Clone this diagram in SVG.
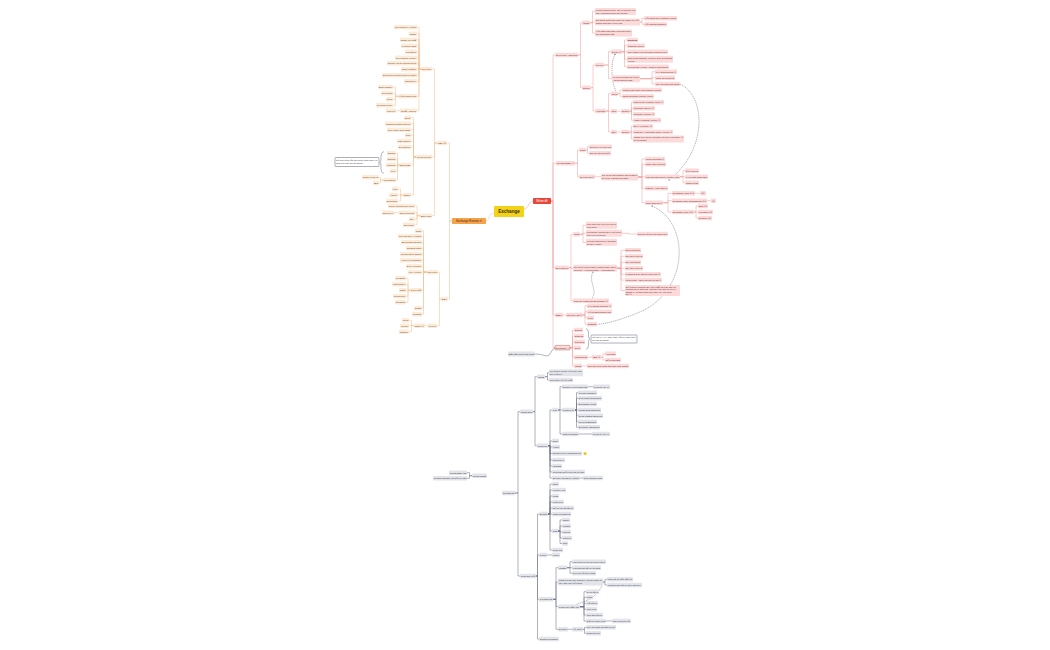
<svg xmlns="http://www.w3.org/2000/svg" width="1050" height="650" viewBox="0 0 1050 650">
<style>
text{font-family:"Liberation Sans",Arial,"DejaVu Sans",sans-serif;font-size:2.2px;fill:#3d3d3d}
rect{rx:0.7px}
.o rect{fill:#fdebd9}
.o text{fill:#5a4330}
.r rect{fill:#fcdada}
.r text{fill:#5a2b2b}
.g rect{fill:#e3e4ea}
.g text{fill:#30323d}
.co{fill:none;stroke:#f6c392;stroke-width:0.55}
.cr{fill:none;stroke:#f2a2a2;stroke-width:0.55}
.cg{fill:none;stroke:#6e7288;stroke-width:0.55}
.dash{fill:none;stroke:#4d5165;stroke-width:0.45;stroke-dasharray:1.2 0.8}
.note rect{fill:#ffffff;stroke:#5b6076;stroke-width:0.5}
.br{fill:none;stroke:#5b6076;stroke-width:0.45}
</style>
<rect width="1050" height="650" fill="#ffffff"/>

<g id="connectors">
<path class="co" d="M494,213C488,213 490,221 486,221"/>
<path class="cr" d="M524,209C529,209 528,201 533,201"/>
<path class="co" d="M452,221H449.5V143H447M452,221H449.5V299H448
M437,143H434.5V69H432M437,143H434.5V157H432M437,143H434.5V215.7H432
M421,69H419V27.3H417M421,69H419V33.7H417M421,69H419V39.7H417M421,69H419V45.7H417M421,69H419V51.7H417M421,69H419V57.7H417M421,69H419V63.3H417M421,69H419V69.3H417M421,69H419V75.3H417M421,69H419V81.3H417M421,69H419V96.3H417M421,69H419V110.7H417
M398,96.3H395.5V87H393M398,96.3H395.5V93.3H393M398,96.3H395.5V99.3H393M398,96.3H395.5V105.3H393M400,110.7H396
M416,157H413.5V117.7H411M416,157H413.5V123.7H411M416,157H413.5V129.7H411M416,157H413.5V135.3H411M416,157H413.5V141H411M416,157H413.5V147H411M416,157H413.5V165H411M416,157H413.5V195H411
M399,165H397.5V153.3H396M399,165H397.5V159H396M399,165H397.5V165H396M399,165H397.5V171H396M399,165H397.5V180H396
M383,180H380.5V177.3H379M383,180H380.5V183H379
M403,195H400.5V189H398M403,195H400.5V195H398M403,195H400.5V201H398
M420,215.7H417V206H415M420,215.7H417V212.7H415M420,215.7H417V219H415M420,215.7H417V224.7H415M399,212.7H394
M441,299H439.5V272.3H438M441,299H439.5V325.7H437
M427,272.3H423.5V230.7H422M427,272.3H423.5V236.3H422M427,272.3H423.5V242.3H422M427,272.3H423.5V248.3H422M427,272.3H423.5V254.3H422M427,272.3H423.5V260.3H422M427,272.3H423.5V266.3H422M427,272.3H423.5V272.3H422M427,272.3H423.5V290.3H422M427,272.3H423.5V308.3H422M427,272.3H423.5V314.3H422
M410,290.3H408V278.3H406M410,290.3H408V284.3H406M410,290.3H408V290.3H406M410,290.3H408V296.3H406M410,290.3H408V302.3H406
M428,325.7H425M414,325.7H411.5V320.3H409M414,325.7H411.5V325.7H409M414,325.7H411.5V331.7H409"/>
<path class="cr" d="M551,201H553V55H555M551,201H553V163.3H556M551,201H553V267.7H555M551,201H553V315H555M551,201H553V347.7H555
M578,55H580.5V22.7H582M578,55H580.5V87.7H582
M590,22.7H592.5V11.5H595M590,22.7H592.5V22H595M590,22.7H592.5V33H595M640,22H642V18.3H644M640,22H642V24.3H644
M591,87.7H593V65H595M591,87.7H593V111H595
M604,65H608.5V51.7H611M604,65H608.5V78.7H612
M622,51.7H624.5V40H627M622,51.7H624.5V45.7H627M622,51.7H624.5V51.7H627M622,51.7H624.5V59.3H627M622,51.7H624.5V66.7H627
M640,78.7H652V71.7H655M640,78.7H652V77.7H655M640,78.7H652V84H655
M606,111H608.5V93.7H611M606,111H608.5V111.3H611M606,111H608.5V132H611
M618,93.7H620V90H622M618,93.7H620V96.3H622
M617,111.3H621M630,111.3H631.5V102.3H633M630,111.3H631.5V108.3H633M630,111.3H631.5V114.3H633M630,111.3H631.5V120.3H633
M617,132H621M630,132H631.5V126.3H633M630,132H631.5V132H633M630,132H631.5V139H633
M575,163.3H577.5V150H579M575,163.3H577.5V176.7H579
M586,150H587.5V146.7H589M586,150H587.5V153.3H589M595,176.7H601
M638,177H642V159H645M638,177H642V164.3H645M638,177H642V176.7H645M638,177H642V188.3H645M638,177H642V202.7H645
M680,176.7H683V170.7H685M680,176.7H683V176.7H685M680,176.7H683V182.7H685
M663,202.7H668V193.3H672M663,202.7H668V200.7H672M663,202.7H668V212H672
M695,193.3H700M707,200.7H711M694,212H696V206H698M694,212H696V212H698M694,212H696V218H698
M569,267.7H571V234.3H573M569,267.7H571V268.3H573M569,267.7H571V300.7H573
M580,234.3H583V225.3H586M580,234.3H583V233.3H586M580,234.3H583V242.3H586M622,233.3H629V234H637
M617,268.3H621V250.3H625M617,268.3H621V256.3H625M617,268.3H621V262.3H625M617,268.3H621V268.3H625M617,268.3H621V274.3H625M617,268.3H621V280H625M617,268.3H621V290.5H625
M563,315H566M583,315H585V305.7H587M583,315H585V311.7H587M583,315H585V317.7H587M583,315H585V324.3H587
M570,347.7H572.5V330H574M570,347.7H572.5V336H574M570,347.7H572.5V342H574M570,347.7H572.5V347.7H574M570,347.7H572.5V357.3H574M570,347.7H572.5V366H574
M588,357.3H592M601,357.3H603V353.7H605M601,357.3H603V360H605M582,366H587"/>
<path class="cg" d="M515,493H518V411.7H520M515,493H518V576H520
M533,411.7H535V376.7H537M533,411.7H535V445.7H537
M545,376.7H547.5V372.7H549M545,376.7H547.5V380H549
M548,445.7H550V410H552M548,445.7H550V441H552M548,445.7H550V447H552M548,445.7H550V453.5H552M548,445.7H550V460H552M548,445.7H550V466H552M548,445.7H550V472H552M548,445.7H550V478H552
M558,410H560V386.7H562M558,410H560V410H562M558,410H560V434H562M588,386.7H593M579,434H592M580,478H583
M575,410H576.5V392.7H578M575,410H576.5V398.3H578M575,410H576.5V404H578M575,410H576.5V410H578M575,410H576.5V415.7H578M575,410H576.5V421.7H578M575,410H576.5V427.3H578
M536,576H537.5V514H539M536,576H537.5V555H539M536,576H537.5V599.3H539M536,576H537.5V639H539
M548,514H550V484H552M548,514H550V490H552M548,514H550V496H552M548,514H550V502H552M548,514H550V508H552M548,514H550V514H552M548,514H550V531H552M548,514H550V550H552
M558,531H560V520H562M558,531H560V526H562M558,531H560V532H562M558,531H560V538H562M558,531H560V543.5H562
M547,555H552
M553,599.3H556V567.7H558M553,599.3H556V582H558M553,599.3H556V606.7H558M553,599.3H556V629.3H558
M567,567.7H570V561.7H572M567,567.7H570V567.7H572M567,567.7H570V573.3H572
M603,582H605V579.3H607M603,582H605V585H607
M580,606.7H584V591.7H586M580,606.7H584V597.3H586M580,606.7H584V603.3H586M580,606.7H584V609.3H586M580,606.7H584V615H586M580,606.7H584V621H586M606,621H612
M568,629.3H572M583,629.3H584.5V627.3H586M583,629.3H584.5V633.3H586
M472,475.7H469.5V472.7H467M472,475.7H469.5V478.3H467"/>
<path class="cg" d="M535,354C544,354 546,357.5 549,355C551.5,352.5 552.5,348.5 555,347.7"/>
<path class="dash" d="M615,54.5C610.5,63 611,81 616,91.4"/>
<path class="dash" d="M680,84C706,96 708,150 669,180"/>
<path class="dash" d="M652,206C690,222 690,290 640,312C625,318 608,324 597.5,324.3"/>
<path class="dash" d="M593,271.8C588,282 598,290 592,298.4"/>
<path class="dash" d="M603,583.5C598,596 588,601 576,604.4"/>
<circle cx="615" cy="54.5" r="0.6" fill="#4d5165"/>
<circle cx="669" cy="180" r="0.6" fill="#4d5165"/>
<circle cx="652" cy="206" r="0.6" fill="#4d5165"/>
<circle cx="593" cy="271.8" r="0.6" fill="#4d5165"/>
</g>

<g id="center"><rect x="494" y="206" width="30" height="11" fill="#f3d31a"/><text x="509" y="213.4" text-anchor="middle" style="font-size:4.6px;font-weight:bold;fill:#3a3000">Exchange</text></g>
<g id="review"><rect x="452" y="218" width="34" height="6" fill="#f5a24b"/><text x="469" y="222" text-anchor="middle" style="font-size:2.8px;fill:#4a2a08">Exchange Review ⑦</text></g>
<g id="redroot"><rect x="533" y="198" width="18" height="6" fill="#e8453c"/><text x="542" y="202" text-anchor="middle" style="font-size:2.8px;fill:#ffffff">Nhóm đề</text></g>

<g id="cex" class="o"><rect x="437" y="140.7" width="10" height="4.6"/><text x="437.8" y="143.8" textLength="8.4" lengthAdjust="spacingAndGlyphs">CEX ⑩</text></g>
<g id="cex-overview" class="o"><rect x="421" y="66.7" width="11" height="4.6"/><text x="421.8" y="69.8" textLength="9.4" lengthAdjust="spacingAndGlyphs">Overview</text></g>
<g id="ov1" class="o"><rect x="394" y="25" width="23" height="4.6"/><text x="394.8" y="28.1" textLength="21.4" lengthAdjust="spacingAndGlyphs">Top category/ Vertical</text></g>
<g id="ov2" class="o"><rect x="409" y="31.4" width="8" height="4.6"/><text x="409.8" y="34.5" textLength="6.4" lengthAdjust="spacingAndGlyphs">Rank</text></g>
<g id="ov3" class="o"><rect x="400" y="37.4" width="17" height="4.6"/><text x="400.8" y="40.5" textLength="15.4" lengthAdjust="spacingAndGlyphs">Năm ra mắt</text></g>
<g id="ov4" class="o"><rect x="401" y="43.4" width="16" height="4.6"/><text x="401.8" y="46.5" textLength="14.4" lengthAdjust="spacingAndGlyphs">Founder/ CEO</text></g>
<g id="ov5" class="o"><rect x="405" y="49.4" width="12" height="4.6"/><text x="405.8" y="52.5" textLength="10.4" lengthAdjust="spacingAndGlyphs">Location</text></g>
<g id="ov6" class="o"><rect x="395" y="55.4" width="22" height="4.6"/><text x="395.8" y="58.5" textLength="20.4" lengthAdjust="spacingAndGlyphs">24h Trading Volume</text></g>
<g id="ov7" class="o"><rect x="387" y="61" width="30" height="4.6"/><text x="387.8" y="64.1" textLength="28.4" lengthAdjust="spacingAndGlyphs">Number users/ Trading Users</text></g>
<g id="ov8" class="o"><rect x="401" y="67" width="16" height="4.6"/><text x="401.8" y="70.1" textLength="14.4" lengthAdjust="spacingAndGlyphs">Main location</text></g>
<g id="ov9" class="o"><rect x="382" y="73" width="35" height="4.6"/><text x="382.8" y="76.1" textLength="33.4" lengthAdjust="spacingAndGlyphs">Supported Countries and Location</text></g>
<g id="ov10" class="o"><rect x="404" y="79" width="13" height="4.6"/><text x="404.8" y="82.1" textLength="11.4" lengthAdjust="spacingAndGlyphs">Trading fee</text></g>
<g id="ov11" class="o"><rect x="398" y="94" width="19" height="4.6"/><text x="398.8" y="97.1" textLength="17.4" lengthAdjust="spacingAndGlyphs">Hỗ trợ thanh toán</text></g>
<g id="pay1" class="o"><rect x="378" y="84.7" width="15" height="4.6"/><text x="378.8" y="87.8" textLength="13.4" lengthAdjust="spacingAndGlyphs">Bank transfer</text></g>
<g id="pay2" class="o"><rect x="381" y="91" width="12" height="4.6"/><text x="381.8" y="94.1" textLength="10.4" lengthAdjust="spacingAndGlyphs">Credit Card</text></g>
<g id="pay3" class="o"><rect x="386" y="97" width="7" height="4.6"/><text x="386.8" y="100.1" textLength="5.4" lengthAdjust="spacingAndGlyphs">Paypal</text></g>
<g id="pay4" class="o"><rect x="376" y="103" width="17" height="4.6"/><text x="376.8" y="106.1" textLength="15.4" lengthAdjust="spacingAndGlyphs">Cryptocurrency</text></g>
<g id="ov12" class="o"><rect x="400" y="108.4" width="17" height="4.6"/><text x="400.8" y="111.5" textLength="15.4" lengthAdjust="spacingAndGlyphs">Giấy phép</text></g>
<g id="lic" class="o"><rect x="386" y="108.4" width="10" height="4.6"/><text x="386.8" y="111.5" textLength="8.4" lengthAdjust="spacingAndGlyphs">Link ref</text></g>

<g id="cex-products" class="o"><rect x="416" y="154.7" width="16" height="4.6"/><text x="416.8" y="157.8" textLength="14.4" lengthAdjust="spacingAndGlyphs">Các nhóm sản phẩm</text></g>
<g id="sp1" class="o"><rect x="404" y="115.4" width="7" height="4.6"/><text x="404.8" y="118.5" textLength="5.4" lengthAdjust="spacingAndGlyphs">Spot</text></g>
<g id="sp2" class="o"><rect x="385" y="121.4" width="26" height="4.6"/><text x="385.8" y="124.5" textLength="24.4" lengthAdjust="spacingAndGlyphs">Margin/lending Futures</text></g>
<g id="sp3" class="o"><rect x="387" y="127.4" width="24" height="4.6"/><text x="387.8" y="130.5" textLength="22.4" lengthAdjust="spacingAndGlyphs">Copy trade/ OTC Swap</text></g>
<g id="sp4" class="o"><rect x="405" y="133" width="6" height="4.6"/><text x="405.8" y="136.1" textLength="4.4" lengthAdjust="spacingAndGlyphs">OTC</text></g>
<g id="sp5" class="o"><rect x="397" y="138.7" width="14" height="4.6"/><text x="397.8" y="141.8" textLength="12.4" lengthAdjust="spacingAndGlyphs">P2P Market</text></g>
<g id="sp6" class="o"><rect x="398" y="144.7" width="13" height="4.6"/><text x="398.8" y="147.8" textLength="11.4" lengthAdjust="spacingAndGlyphs">Derivatives</text></g>
<g id="sp7" class="o"><rect x="399" y="162.7" width="12" height="4.6"/><text x="399.8" y="165.8" textLength="10.4" lengthAdjust="spacingAndGlyphs">Earnings</text></g>
<g id="ea1" class="o"><rect x="387" y="151" width="9" height="4.6"/><text x="387.8" y="154.1" textLength="7.4" lengthAdjust="spacingAndGlyphs">Saving</text></g>
<g id="ea2" class="o"><rect x="387" y="156.7" width="9" height="4.6"/><text x="387.8" y="159.8" textLength="7.4" lengthAdjust="spacingAndGlyphs">Staking</text></g>
<g id="ea3" class="o"><rect x="386" y="162.7" width="10" height="4.6"/><text x="386.8" y="165.8" textLength="8.4" lengthAdjust="spacingAndGlyphs">Farming</text></g>
<g id="ea4" class="o"><rect x="390" y="168.7" width="6" height="4.6"/><text x="390.8" y="171.8" textLength="4.4" lengthAdjust="spacingAndGlyphs">Pool</text></g>
<g id="ea5" class="o"><rect x="383" y="177.7" width="13" height="4.6"/><text x="383.8" y="180.8" textLength="11.4" lengthAdjust="spacingAndGlyphs">Launchpad</text></g>
<g id="lp1" class="o"><rect x="362" y="175" width="17" height="4.6"/><text x="362.8" y="178.1" textLength="15.4" lengthAdjust="spacingAndGlyphs">Claim/ Lock up</text></g>
<g id="lp2" class="o"><rect x="373" y="180.7" width="6" height="4.6"/><text x="373.8" y="183.8" textLength="4.4" lengthAdjust="spacingAndGlyphs">IEO</text></g>
<g id="sp8" class="o"><rect x="403" y="192.7" width="8" height="4.6"/><text x="403.8" y="195.8" textLength="6.4" lengthAdjust="spacingAndGlyphs">Other</text></g>
<g id="ot1" class="o"><rect x="392" y="186.7" width="6" height="4.6"/><text x="392.8" y="189.8" textLength="4.4" lengthAdjust="spacingAndGlyphs">Loans</text></g>
<g id="ot2" class="o"><rect x="389" y="192.7" width="9" height="4.6"/><text x="389.8" y="195.8" textLength="7.4" lengthAdjust="spacingAndGlyphs">Academy</text></g>
<g id="ot3" class="o"><rect x="386" y="198.7" width="12" height="4.6"/><text x="386.8" y="201.8" textLength="10.4" lengthAdjust="spacingAndGlyphs">Blockchain</text></g>
<g id="note-left" class="note"><rect x="335" y="157.5" width="44" height="9"/><text x="336" y="161.2" textLength="41.5" lengthAdjust="spacingAndGlyphs">Mỗi sàn cung cấp sản phẩm khác nhau, so</text><text x="336" y="164.4" textLength="27" lengthAdjust="spacingAndGlyphs">sánh giữa các sàn Exchange</text></g>
<path class="br" d="M384,151.5Q381,152 381,156L381,159.5Q381,162 379.8,162Q381,162.3 381,165L381,169Q381,173 384,173.5"/>

<g id="cex-security" class="o"><rect x="420" y="213.4" width="12" height="4.6"/><text x="420.8" y="216.5" textLength="10.4" lengthAdjust="spacingAndGlyphs">Bảo mật</text></g>
<g id="bm1" class="o"><rect x="388" y="203.7" width="27" height="4.6"/><text x="388.8" y="206.8" textLength="25.4" lengthAdjust="spacingAndGlyphs">Phone anti Security Code</text></g>
<g id="bm2" class="o"><rect x="399" y="210.4" width="16" height="4.6"/><text x="399.8" y="213.5" textLength="14.4" lengthAdjust="spacingAndGlyphs">Open account</text></g>
<g id="bm2c" class="o"><rect x="382" y="210.4" width="12" height="4.6"/><text x="382.8" y="213.5" textLength="10.4" lengthAdjust="spacingAndGlyphs">Data new ref</text></g>
<g id="bm3" class="o"><rect x="409" y="216.7" width="6" height="4.6"/><text x="409.8" y="219.8" textLength="4.4" lengthAdjust="spacingAndGlyphs">2FA</text></g>
<g id="bm4" class="o"><rect x="403" y="222.4" width="12" height="4.6"/><text x="403.8" y="225.5" textLength="10.4" lengthAdjust="spacingAndGlyphs">Security</text></g>

<g id="dex" class="o"><rect x="441" y="296.7" width="7" height="4.6"/><text x="441.8" y="299.8" textLength="5.4" lengthAdjust="spacingAndGlyphs">DEX</text></g>
<g id="dex-overview" class="o"><rect x="427" y="270" width="11" height="4.6"/><text x="427.8" y="273.1" textLength="9.4" lengthAdjust="spacingAndGlyphs">Overview</text></g>
<g id="do1" class="o"><rect x="415" y="228.4" width="7" height="4.6"/><text x="415.8" y="231.5" textLength="5.4" lengthAdjust="spacingAndGlyphs">Rank</text></g>
<g id="do2" class="o"><rect x="398" y="234" width="24" height="4.6"/><text x="398.8" y="237.1" textLength="22.4" lengthAdjust="spacingAndGlyphs">Top category/ Vertical</text></g>
<g id="do3" class="o"><rect x="401" y="240" width="21" height="4.6"/><text x="401.8" y="243.1" textLength="19.4" lengthAdjust="spacingAndGlyphs">Blockchain Ecosys</text></g>
<g id="do4" class="o"><rect x="406" y="246" width="16" height="4.6"/><text x="406.8" y="249.1" textLength="14.4" lengthAdjust="spacingAndGlyphs">Trading pairs</text></g>
<g id="do5" class="o"><rect x="400" y="252" width="22" height="4.6"/><text x="400.8" y="255.1" textLength="20.4" lengthAdjust="spacingAndGlyphs">Connected wallet</text></g>
<g id="do6" class="o"><rect x="400" y="258" width="22" height="4.6"/><text x="400.8" y="261.1" textLength="20.4" lengthAdjust="spacingAndGlyphs">Year of Foundation</text></g>
<g id="do7" class="o"><rect x="406" y="264" width="16" height="4.6"/><text x="406.8" y="267.1" textLength="14.4" lengthAdjust="spacingAndGlyphs">24h Volume</text></g>
<g id="do8" class="o"><rect x="408" y="270" width="14" height="4.6"/><text x="408.8" y="273.1" textLength="12.4" lengthAdjust="spacingAndGlyphs">TVL/ Volume</text></g>
<g id="do9" class="o"><rect x="410" y="288" width="12" height="4.6"/><text x="410.8" y="291.1" textLength="10.4" lengthAdjust="spacingAndGlyphs">Liên kết</text></g>
<g id="lk1" class="o"><rect x="395" y="276" width="11" height="4.6"/><text x="395.8" y="279.1" textLength="9.4" lengthAdjust="spacingAndGlyphs">Website</text></g>
<g id="lk2" class="o"><rect x="392" y="282" width="14" height="4.6"/><text x="392.8" y="285.1" textLength="12.4" lengthAdjust="spacingAndGlyphs">Whitepaper</text></g>
<g id="lk3" class="o"><rect x="399" y="288" width="7" height="4.6"/><text x="399.8" y="291.1" textLength="5.4" lengthAdjust="spacingAndGlyphs">Chat</text></g>
<g id="lk4" class="o"><rect x="393" y="294" width="13" height="4.6"/><text x="393.8" y="297.1" textLength="11.4" lengthAdjust="spacingAndGlyphs">Community</text></g>
<g id="lk5" class="o"><rect x="395" y="300" width="11" height="4.6"/><text x="395.8" y="303.1" textLength="9.4" lengthAdjust="spacingAndGlyphs">Contract</text></g>
<g id="do10" class="o"><rect x="414" y="306" width="8" height="4.6"/><text x="414.8" y="309.1" textLength="6.4" lengthAdjust="spacingAndGlyphs">Chart</text></g>
<g id="do11" class="o"><rect x="412" y="312" width="10" height="4.6"/><text x="412.8" y="315.1" textLength="8.4" lengthAdjust="spacingAndGlyphs">Minting</text></g>
<g id="dex-review" class="o"><rect x="428" y="323.4" width="9" height="4.6"/><text x="428.8" y="326.5" textLength="7.4" lengthAdjust="spacingAndGlyphs">Review</text></g>
<g id="dex-rate" class="o"><rect x="414" y="323.4" width="11" height="4.6"/><text x="414.8" y="326.5" textLength="9.4" lengthAdjust="spacingAndGlyphs">Rate ①</text></g>
<g id="rt1" class="o"><rect x="402" y="318" width="7" height="4.6"/><text x="402.8" y="321.1" textLength="5.4" lengthAdjust="spacingAndGlyphs">Pros</text></g>
<g id="rt2" class="o"><rect x="400" y="323.4" width="9" height="4.6"/><text x="400.8" y="326.5" textLength="7.4" lengthAdjust="spacingAndGlyphs">Income</text></g>
<g id="rt3" class="o"><rect x="399" y="329.4" width="10" height="4.6"/><text x="399.8" y="332.5" textLength="8.4" lengthAdjust="spacingAndGlyphs">Charge</text></g>

<g id="r-oa" class="r"><rect x="555" y="52.7" width="23" height="4.6"/><text x="555.8" y="55.8" textLength="21.4" lengthAdjust="spacingAndGlyphs">Overview Analytics</text></g>
<g id="r-oa-ins" class="r"><rect x="582" y="20.4" width="8" height="4.6"/><text x="582.8" y="23.5" textLength="6.4" lengthAdjust="spacingAndGlyphs">Insight</text></g>
<g id="i1" class="r"><rect x="595" y="8" width="41" height="7"/><text x="595.8" y="10.8" textLength="39.4" lengthAdjust="spacingAndGlyphs">Lượng thanh khoản, phí và spread của</text><text x="595.8" y="13.8" textLength="31.7" lengthAdjust="spacingAndGlyphs">các exchanges trên thị trường</text></g>
<g id="i2" class="r"><rect x="595" y="18.5" width="45" height="7"/><text x="595.8" y="21.3" textLength="43.4" lengthAdjust="spacingAndGlyphs">So sánh giữa các sàn với nhau để xếp</text><text x="595.8" y="24.3" textLength="26.5" lengthAdjust="spacingAndGlyphs">hạng sàn theo tiêu chí</text></g>
<g id="i2a" class="r"><rect x="644" y="16" width="33" height="4.6"/><text x="644.8" y="19.1" textLength="31.4" lengthAdjust="spacingAndGlyphs">Xếp hạng theo Rating/ Funds</text></g>
<g id="i2b" class="r"><rect x="644" y="22" width="23" height="4.6"/><text x="644.8" y="25.1" textLength="21.4" lengthAdjust="spacingAndGlyphs">Xếp hạng Exchanges</text></g>
<g id="i3" class="r"><rect x="595" y="29.5" width="37" height="7"/><text x="595.8" y="32.3" textLength="35.4" lengthAdjust="spacingAndGlyphs">Xếp hạng sàn giao dịch spot theo</text><text x="595.8" y="35.3" textLength="18.8" lengthAdjust="spacingAndGlyphs">thứ hạng hàng đầu</text></g>
<g id="r-oa-out" class="r"><rect x="582" y="85.4" width="9" height="4.6"/><text x="582.8" y="88.5" textLength="7.4" lengthAdjust="spacingAndGlyphs">Outline</text></g>
<g id="r-ov" class="r"><rect x="595" y="62.7" width="9" height="4.6"/><text x="595.8" y="65.8" textLength="7.4" lengthAdjust="spacingAndGlyphs">Overview</text></g>
<g id="r-src" class="r"><rect x="611" y="49.4" width="11" height="4.6"/><text x="611.8" y="52.5" textLength="9.4" lengthAdjust="spacingAndGlyphs">Source ①</text></g>
<g id="s1" class="r"><rect x="627" y="37.7" width="11" height="4.6"/><text x="627.8" y="40.8" textLength="9.4" lengthAdjust="spacingAndGlyphs" style="font-weight:bold">Mainstream</text></g>
<g id="s2" class="r"><rect x="627" y="43.4" width="18" height="4.6"/><text x="627.8" y="46.5" textLength="16.4" lengthAdjust="spacingAndGlyphs">Trading volume</text></g>
<g id="s3" class="r"><rect x="627" y="49.4" width="41" height="4.6"/><text x="627.8" y="52.5" textLength="39.4" lengthAdjust="spacingAndGlyphs">Daily change 7 days Exchange Trading volume</text></g>
<g id="s4" class="r"><rect x="627" y="55.8" width="46" height="7"/><text x="627.8" y="58.6" textLength="44.4" lengthAdjust="spacingAndGlyphs">Sales/ Exchange volume 24h in trading</text><text x="627.8" y="61.6" textLength="7.2" lengthAdjust="spacingAndGlyphs">Volume</text></g>
<g id="s5" class="r"><rect x="627" y="64.4" width="42" height="4.6"/><text x="627.8" y="67.5" textLength="40.4" lengthAdjust="spacingAndGlyphs">24h Trading Volume Adjusted/ Exchanges</text></g>
<g id="r-tc" class="r"><rect x="612" y="75.2" width="28" height="7"/><text x="612.8" y="78" textLength="26.4" lengthAdjust="spacingAndGlyphs">Top Crypto Exchanges List: Detailed</text><text x="612.8" y="81" textLength="19.6" lengthAdjust="spacingAndGlyphs">Analysis Ratings and Stats</text></g>
<g id="t1" class="r"><rect x="655" y="69.4" width="22" height="4.6"/><text x="655.8" y="72.5" textLength="20.4" lengthAdjust="spacingAndGlyphs">Key Dimensions ①</text></g>
<g id="t2" class="r"><rect x="655" y="75.4" width="20" height="4.6"/><text x="655.8" y="78.5" textLength="18.4" lengthAdjust="spacingAndGlyphs">Plan vs concept</text></g>
<g id="t3" class="r"><rect x="655" y="81.7" width="25" height="4.6"/><text x="655.8" y="84.8" textLength="23.4" lengthAdjust="spacingAndGlyphs">Tiêu chí đánh giá rating</text></g>
<g id="r-an" class="r"><rect x="595" y="108.7" width="11" height="4.6"/><text x="595.8" y="111.8" textLength="9.4" lengthAdjust="spacingAndGlyphs">Analytics</text></g>
<g id="r-ch" class="r"><rect x="611" y="91.4" width="7" height="4.6"/><text x="611.8" y="94.5" textLength="5.4" lengthAdjust="spacingAndGlyphs">Chung</text></g>
<g id="ch1" class="r"><rect x="622" y="87.7" width="40" height="4.6"/><text x="622.8" y="90.8" textLength="38.4" lengthAdjust="spacingAndGlyphs">Chart 5 sàn giao dịch trading volume</text></g>
<g id="ch2" class="r"><rect x="622" y="94" width="32" height="4.6"/><text x="622.8" y="97.1" textLength="30.4" lengthAdjust="spacingAndGlyphs">NDMR Exchange Trading Volume</text></g>
<g id="r-spot" class="r"><rect x="611" y="109" width="6" height="4.6"/><text x="611.8" y="112.1" textLength="4.4" lengthAdjust="spacingAndGlyphs">Spot</text></g>
<g id="r-spot-out" class="r"><rect x="621" y="109" width="9" height="4.6"/><text x="621.8" y="112.1" textLength="7.4" lengthAdjust="spacingAndGlyphs">Outline</text></g>
<g id="sq1" class="r"><rect x="633" y="100" width="31" height="4.6"/><text x="633.8" y="103.1" textLength="29.4" lengthAdjust="spacingAndGlyphs">Chart crypto exchange volume ①</text></g>
<g id="sq2" class="r"><rect x="633" y="106" width="22" height="4.6"/><text x="633.8" y="109.1" textLength="20.4" lengthAdjust="spacingAndGlyphs">Liquidity Score ①</text></g>
<g id="sq3" class="r"><rect x="633" y="112" width="22" height="4.6"/><text x="633.8" y="115.1" textLength="20.4" lengthAdjust="spacingAndGlyphs">Trading Volume ①</text></g>
<g id="sq4" class="r"><rect x="633" y="118" width="28" height="4.6"/><text x="633.8" y="121.1" textLength="26.4" lengthAdjust="spacingAndGlyphs">Visits/ exchange volume ①</text></g>
<g id="r-dexa" class="r"><rect x="611" y="129.7" width="6" height="4.6"/><text x="611.8" y="132.8" textLength="4.4" lengthAdjust="spacingAndGlyphs">DEX</text></g>
<g id="r-dexa-out" class="r"><rect x="621" y="129.7" width="9" height="4.6"/><text x="621.8" y="132.8" textLength="7.4" lengthAdjust="spacingAndGlyphs">Outline</text></g>
<g id="dq1" class="r"><rect x="633" y="124" width="20" height="4.6"/><text x="633.8" y="127.1" textLength="18.4" lengthAdjust="spacingAndGlyphs">Dex Volume ①</text></g>
<g id="dq2" class="r"><rect x="633" y="129.7" width="40" height="4.6"/><text x="633.8" y="132.8" textLength="38.4" lengthAdjust="spacingAndGlyphs">Chart Dex Aggregator Trade Volume ①</text></g>
<g id="dq3" class="r"><rect x="633" y="135.5" width="51" height="7"/><text x="633.8" y="138.3" textLength="49.4" lengthAdjust="spacingAndGlyphs">Chart dex spot/ Liquidity for Dex Liquidity ①</text><text x="633.8" y="141.3" textLength="13" lengthAdjust="spacingAndGlyphs">Pools (Swap)</text></g>

<g id="r-sd" class="r"><rect x="556" y="161" width="19" height="4.6"/><text x="556.8" y="164.1" textLength="17.4" lengthAdjust="spacingAndGlyphs">CL Spot DEX ⑦</text></g>
<g id="r-sd-ins" class="r"><rect x="579" y="147.7" width="7" height="4.6"/><text x="579.8" y="150.8" textLength="5.4" lengthAdjust="spacingAndGlyphs">Insight</text></g>
<g id="sdi1" class="r"><rect x="589" y="144.4" width="23" height="4.6"/><text x="589.8" y="147.5" textLength="21.4" lengthAdjust="spacingAndGlyphs">Sàn nào uy tín để giao dịch</text></g>
<g id="sdi2" class="r"><rect x="589" y="151" width="22" height="4.6"/><text x="589.8" y="154.1" textLength="20.4" lengthAdjust="spacingAndGlyphs">Sàn nào giao dịch nhiều</text></g>
<g id="r-sd-rev" class="r"><rect x="579" y="174.4" width="16" height="4.6"/><text x="579.8" y="177.5" textLength="14.4" lengthAdjust="spacingAndGlyphs">Review list ①</text></g>
<g id="r-sdt" class="r"><rect x="601" y="173.5" width="37" height="7"/><text x="601.8" y="176.3" textLength="35.4" lengthAdjust="spacingAndGlyphs">Top Crypto Exchanges List: Detailed</text><text x="601.8" y="179.3" textLength="26.3" lengthAdjust="spacingAndGlyphs">Reviews, Ratings and Stats</text></g>
<g id="rv1" class="r"><rect x="645" y="156.7" width="20" height="4.6"/><text x="645.8" y="159.8" textLength="18.4" lengthAdjust="spacingAndGlyphs">Most Important ①</text></g>
<g id="rv2" class="r"><rect x="645" y="162" width="21" height="4.6"/><text x="645.8" y="165.1" textLength="19.4" lengthAdjust="spacingAndGlyphs">Main các concept</text></g>
<g id="rv3" class="r"><rect x="645" y="174.4" width="35" height="4.6"/><text x="645.8" y="177.5" textLength="33.4" lengthAdjust="spacingAndGlyphs">Main các đánh giá quy country/ pairs</text></g>
<g id="rv3a" class="r"><rect x="685" y="168.4" width="14" height="4.6"/><text x="685.8" y="171.5" textLength="12.4" lengthAdjust="spacingAndGlyphs">Số dex giao dịch</text></g>
<g id="rv3b" class="r"><rect x="685" y="174.4" width="23" height="4.6"/><text x="685.8" y="177.5" textLength="21.4" lengthAdjust="spacingAndGlyphs">KYC with pairs dịch</text></g>
<g id="rv3c" class="r"><rect x="685" y="180.4" width="14" height="4.6"/><text x="685.8" y="183.5" textLength="12.4" lengthAdjust="spacingAndGlyphs">Market pair</text></g>
<g id="rv4" class="r"><rect x="645" y="186" width="23" height="4.6"/><text x="645.8" y="189.1" textLength="21.4" lengthAdjust="spacingAndGlyphs">Rating/ Audit ranked</text></g>
<g id="rv5" class="r"><rect x="645" y="200.4" width="18" height="4.6"/><text x="645.8" y="203.5" textLength="16.4" lengthAdjust="spacingAndGlyphs">Cách đánh giá ①</text></g>
<g id="ev1" class="r"><rect x="672" y="191" width="23" height="4.6"/><text x="672.8" y="194.1" textLength="21.4" lengthAdjust="spacingAndGlyphs">Exchange rank ②③</text></g>
<g id="ev1a" class="r"><rect x="700" y="191" width="6" height="4.6"/><text x="700.8" y="194.1" textLength="4.4" lengthAdjust="spacingAndGlyphs">①</text></g>
<g id="ev2" class="r"><rect x="672" y="198.4" width="35" height="4.6"/><text x="672.8" y="201.5" textLength="33.4" lengthAdjust="spacingAndGlyphs">Exchange rank/ Submissions ②④</text></g>
<g id="ev2a" class="r"><rect x="711" y="198.4" width="5" height="4.6"/><text x="711.8" y="201.5" textLength="3.4" lengthAdjust="spacingAndGlyphs">①</text></g>
<g id="ev3" class="r"><rect x="672" y="209.7" width="22" height="4.6"/><text x="672.8" y="212.8" textLength="20.4" lengthAdjust="spacingAndGlyphs">Exchange rank ②④</text></g>
<g id="ev3a" class="r"><rect x="698" y="203.7" width="10" height="4.6"/><text x="698.8" y="206.8" textLength="8.4" lengthAdjust="spacingAndGlyphs">Stars ②④</text></g>
<g id="ev3b" class="r"><rect x="698" y="209.7" width="15" height="4.6"/><text x="698.8" y="212.8" textLength="13.4" lengthAdjust="spacingAndGlyphs">Reputation ②④</text></g>
<g id="ev3c" class="r"><rect x="698" y="215.7" width="14" height="4.6"/><text x="698.8" y="218.8" textLength="12.4" lengthAdjust="spacingAndGlyphs">Duration ②④</text></g>

<g id="r-dv" class="r"><rect x="555" y="265.4" width="14" height="4.6"/><text x="555.8" y="268.5" textLength="12.4" lengthAdjust="spacingAndGlyphs">Derivatives</text></g>
<g id="r-dv-ins" class="r"><rect x="573" y="232" width="7" height="4.6"/><text x="573.8" y="235.1" textLength="5.4" lengthAdjust="spacingAndGlyphs">Insight</text></g>
<g id="dvi1" class="r"><rect x="586" y="221.8" width="31" height="7"/><text x="586.8" y="224.6" textLength="29.4" lengthAdjust="spacingAndGlyphs">Cùng người chơi có thể thu được lợi</text><text x="586.8" y="227.6" textLength="10.1" lengthAdjust="spacingAndGlyphs">nhuận không?</text></g>
<g id="dvi2" class="r"><rect x="586" y="229.8" width="36" height="7"/><text x="586.8" y="232.6" textLength="34.4" lengthAdjust="spacingAndGlyphs">Phí trading, funding rate có thể được</text><text x="586.8" y="235.6" textLength="18.6" lengthAdjust="spacingAndGlyphs">biểu ở trên từng sàn</text></g>
<g id="dvi2a" class="r"><rect x="637" y="231.7" width="31" height="4.6"/><text x="637.8" y="234.8" textLength="29.4" lengthAdjust="spacingAndGlyphs">Sàn nào tiết kiệm phí người chơi</text></g>
<g id="dvi3" class="r"><rect x="586" y="238.8" width="31" height="7"/><text x="586.8" y="241.6" textLength="29.4" lengthAdjust="spacingAndGlyphs">Lựa chọn những sàn có Exchange</text><text x="586.8" y="244.6" textLength="14.7" lengthAdjust="spacingAndGlyphs">tài nguyên 2024</text></g>
<g id="r-dvo" class="r"><rect x="573" y="264.8" width="44" height="7"/><text x="573.8" y="267.6" textLength="42.4" lengthAdjust="spacingAndGlyphs">Overview of Derivative Market Data, Open</text><text x="573.8" y="270.6" textLength="40.3" lengthAdjust="spacingAndGlyphs">Interest + Funding Rate + Liquidations</text></g>
<g id="dvo1" class="r"><rect x="625" y="248" width="16" height="4.6"/><text x="625.8" y="251.1" textLength="14.4" lengthAdjust="spacingAndGlyphs">BTC Liquidations</text></g>
<g id="dvo2" class="r"><rect x="625" y="254" width="18" height="4.6"/><text x="625.8" y="257.1" textLength="16.4" lengthAdjust="spacingAndGlyphs">BTC Open Interest</text></g>
<g id="dvo3" class="r"><rect x="625" y="260" width="16" height="4.6"/><text x="625.8" y="263.1" textLength="14.4" lengthAdjust="spacingAndGlyphs">ETH Liquidations</text></g>
<g id="dvo4" class="r"><rect x="625" y="266" width="18" height="4.6"/><text x="625.8" y="269.1" textLength="16.4" lengthAdjust="spacingAndGlyphs">ETH Open Interest</text></g>
<g id="dvo5" class="r"><rect x="625" y="272" width="36" height="4.6"/><text x="625.8" y="275.1" textLength="34.4" lengthAdjust="spacingAndGlyphs">Futures 24h Open Interest ①</text></g>
<g id="dvo6" class="r"><rect x="625" y="277.7" width="37" height="4.6"/><text x="625.8" y="280.8" textLength="35.4" lengthAdjust="spacingAndGlyphs">Tổng lượng – Open Interest với sàn ①</text></g>
<g id="dvo7" class="r"><rect x="625" y="285" width="55" height="11"/><text x="625.8" y="287.7" textLength="50" lengthAdjust="spacingAndGlyphs">Số lượng Funding rate cao nhất với các sàn và</text><text x="625.8" y="290.2" textLength="50" lengthAdjust="spacingAndGlyphs">lượng open interest, chênh lệch giá và rủi ro</text><text x="625.8" y="292.7" textLength="46" lengthAdjust="spacingAndGlyphs">thanh lý. Trung bình các sàn, so với hiện</text><text x="625.8" y="295.2" textLength="6" lengthAdjust="spacingAndGlyphs">tại ①</text></g>
<g id="r-dvl" class="r"><rect x="573" y="298.4" width="36" height="4.6"/><text x="573.8" y="301.5" textLength="34.4" lengthAdjust="spacingAndGlyphs">Lịch sử đánh giá Exchange ①</text></g>

<g id="r-dex" class="r"><rect x="555" y="312.7" width="8" height="4.6"/><text x="555.8" y="315.8" textLength="6.4" lengthAdjust="spacingAndGlyphs">DEX</text></g>
<g id="r-td" class="r"><rect x="566" y="312.7" width="17" height="4.6"/><text x="566.8" y="315.8" textLength="15.4" lengthAdjust="spacingAndGlyphs">Top Dex list ①</text></g>
<g id="td1" class="r"><rect x="587" y="303.4" width="25" height="4.6"/><text x="587.8" y="306.5" textLength="23.4" lengthAdjust="spacingAndGlyphs">Key Dimensions ①</text></g>
<g id="td2" class="r"><rect x="587" y="309.4" width="25" height="4.6"/><text x="587.8" y="312.5" textLength="23.4" lengthAdjust="spacingAndGlyphs">Hỗ trợ Blockchain nào</text></g>
<g id="td3" class="r"><rect x="587" y="315.4" width="7" height="4.6"/><text x="587.8" y="318.5" textLength="5.4" lengthAdjust="spacingAndGlyphs">Type</text></g>
<g id="td4" class="r"><rect x="587" y="322" width="10" height="4.6"/><text x="587.8" y="325.1" textLength="8.4" lengthAdjust="spacingAndGlyphs">Rating</text></g>

<g id="r-ex" class="r"><rect x="555" y="345.4" width="15" height="4.6" style="stroke:#9b2a2a;stroke-width:0.35"/><text x="555.8" y="348.5" textLength="13.4" lengthAdjust="spacingAndGlyphs">Exchange ⑦</text></g>
<g id="x1" class="r"><rect x="574" y="327.7" width="9" height="4.6"/><text x="574.8" y="330.8" textLength="7.4" lengthAdjust="spacingAndGlyphs">Saving</text></g>
<g id="x2" class="r"><rect x="574" y="333.7" width="10" height="4.6"/><text x="574.8" y="336.8" textLength="8.4" lengthAdjust="spacingAndGlyphs">Staking</text></g>
<g id="x3" class="r"><rect x="574" y="339.7" width="11" height="4.6"/><text x="574.8" y="342.8" textLength="9.4" lengthAdjust="spacingAndGlyphs">Farming</text></g>
<g id="x4" class="r"><rect x="574" y="345.4" width="7" height="4.6"/><text x="574.8" y="348.5" textLength="5.4" lengthAdjust="spacingAndGlyphs">Pool</text></g>
<g id="x5" class="r"><rect x="574" y="355" width="14" height="4.6"/><text x="574.8" y="358.1" textLength="12.4" lengthAdjust="spacingAndGlyphs">Launchpad</text></g>
<g id="x5a" class="r"><rect x="592" y="355" width="9" height="4.6"/><text x="592.8" y="358.1" textLength="7.4" lengthAdjust="spacingAndGlyphs">IEO ①</text></g>
<g id="x5b" class="r"><rect x="605" y="351.4" width="11" height="4.6"/><text x="605.8" y="354.5" textLength="9.4" lengthAdjust="spacingAndGlyphs">APR IEO</text></g>
<g id="x5c" class="r"><rect x="605" y="357.7" width="16" height="4.6"/><text x="605.8" y="360.8" textLength="14.4" lengthAdjust="spacingAndGlyphs">Số lượng IEO</text></g>
<g id="x6" class="r"><rect x="574" y="363.7" width="8" height="4.6"/><text x="574.8" y="366.8" textLength="6.4" lengthAdjust="spacingAndGlyphs">Insight</text></g>
<g id="x6a" class="r"><rect x="587" y="363.7" width="42" height="4.6"/><text x="587.8" y="366.8" textLength="40.4" lengthAdjust="spacingAndGlyphs">Sàn bảo hiểm nhận sàn giao dịch nhanh</text></g>
<g id="note-right" class="note"><rect x="591" y="335" width="46" height="8"/><text x="592" y="338.4" textLength="43.5" lengthAdjust="spacingAndGlyphs">Mỗi sàn có APY khác nhau, cần so sánh giữa</text><text x="592" y="341.4" textLength="17" lengthAdjust="spacingAndGlyphs">các sàn Exchange</text></g>
<path class="br" d="M586,328.5Q588.5,329 588.5,333L588.5,336Q588.5,338.5 590,338.7Q588.5,339 588.5,341.5L588.5,345Q588.5,349 586,349.5"/>
<g id="note-start" class="g"><rect x="508" y="351.5" width="27" height="5"/><text x="508.8" y="354.8" textLength="25.4" lengthAdjust="spacingAndGlyphs">Bắt đầu mua lịch trình</text></g>

<g id="g-content" class="g"><rect x="502" y="490.7" width="13" height="4.6"/><text x="502.8" y="493.8" textLength="11.4" lengthAdjust="spacingAndGlyphs">Content</text></g>
<g id="g-cs" class="g"><rect x="520" y="409.4" width="13" height="4.6"/><text x="520.8" y="412.5" textLength="11.4" lengthAdjust="spacingAndGlyphs">Chính sách</text></g>
<g id="g-ins" class="g"><rect x="537" y="374.4" width="8" height="4.6"/><text x="537.8" y="377.5" textLength="6.4" lengthAdjust="spacingAndGlyphs">Insight</text></g>
<g id="gi1" class="g"><rect x="549" y="369.2" width="34" height="7"/><text x="549.8" y="372" textLength="32.4" lengthAdjust="spacingAndGlyphs">Get rating từ các sàn, nếu là Top 1 sàn,</text><text x="549.8" y="375" textLength="12.2" lengthAdjust="spacingAndGlyphs">sàn đó đầu tiên</text></g>
<g id="gi2" class="g"><rect x="549" y="377.7" width="24" height="4.6"/><text x="549.8" y="380.8" textLength="22.4" lengthAdjust="spacingAndGlyphs">Tìm hiểu về đề xuất</text></g>
<g id="g-lr" class="g"><rect x="537" y="443.4" width="11" height="4.6"/><text x="537.8" y="446.5" textLength="9.4" lengthAdjust="spacingAndGlyphs">List Review</text></g>
<g id="g-filter" class="g"><rect x="552" y="407.7" width="6" height="4.6"/><text x="552.8" y="410.8" textLength="4.4" lengthAdjust="spacingAndGlyphs">Filter</text></g>
<g id="gf1" class="g"><rect x="562" y="384.4" width="26" height="4.6"/><text x="562.8" y="387.5" textLength="24.4" lengthAdjust="spacingAndGlyphs">Number of Investments</text></g>
<g id="gf1a" class="g"><rect x="593" y="384.4" width="17" height="4.6"/><text x="593.8" y="387.5" textLength="15.4" lengthAdjust="spacingAndGlyphs">From to/ To ex</text></g>
<g id="gf2" class="g"><rect x="562" y="407.7" width="13" height="4.6"/><text x="562.8" y="410.8" textLength="11.4" lengthAdjust="spacingAndGlyphs">Cross Type</text></g>
<g id="gc1" class="g"><rect x="578" y="390.4" width="19" height="4.6"/><text x="578.8" y="393.5" textLength="17.4" lengthAdjust="spacingAndGlyphs">Crypto Mainnet</text></g>
<g id="gc2" class="g"><rect x="578" y="396" width="24" height="4.6"/><text x="578.8" y="399.1" textLength="22.4" lengthAdjust="spacingAndGlyphs">Development Support</text></g>
<g id="gc3" class="g"><rect x="578" y="401.7" width="19" height="4.6"/><text x="578.8" y="404.8" textLength="17.4" lengthAdjust="spacingAndGlyphs">Exchange Fund</text></g>
<g id="gc4" class="g"><rect x="578" y="407.7" width="23" height="4.6"/><text x="578.8" y="410.8" textLength="21.4" lengthAdjust="spacingAndGlyphs">Marketing Support</text></g>
<g id="gc5" class="g"><rect x="578" y="413.4" width="25" height="4.6"/><text x="578.8" y="416.5" textLength="23.4" lengthAdjust="spacingAndGlyphs">Tech Listing Support</text></g>
<g id="gc6" class="g"><rect x="578" y="419.4" width="19" height="4.6"/><text x="578.8" y="422.5" textLength="17.4" lengthAdjust="spacingAndGlyphs">Project Budget</text></g>
<g id="gc7" class="g"><rect x="578" y="425" width="22" height="4.6"/><text x="578.8" y="428.1" textLength="20.4" lengthAdjust="spacingAndGlyphs">Security Support</text></g>
<g id="gf3" class="g"><rect x="562" y="431.7" width="17" height="4.6"/><text x="562.8" y="434.8" textLength="15.4" lengthAdjust="spacingAndGlyphs">Total Fundraise</text></g>
<g id="gf3a" class="g"><rect x="592" y="431.7" width="18" height="4.6"/><text x="592.8" y="434.8" textLength="16.4" lengthAdjust="spacingAndGlyphs">From to/ To ex</text></g>
<g id="gl2" class="g"><rect x="552" y="438.7" width="7" height="4.6"/><text x="552.8" y="441.8" textLength="5.4" lengthAdjust="spacingAndGlyphs">Name</text></g>
<g id="gl3" class="g"><rect x="552" y="444.7" width="8" height="4.6"/><text x="552.8" y="447.8" textLength="6.4" lengthAdjust="spacingAndGlyphs">Header</text></g>
<g id="gl4" class="g"><rect x="552" y="451.2" width="30" height="4.6"/><text x="552.8" y="454.3" textLength="28.4" lengthAdjust="spacingAndGlyphs">Details review (Management)</text><circle cx="585" cy="453.5" r="1.6" fill="#f0c419"/></g>
<g id="gl5" class="g"><rect x="552" y="457.7" width="13" height="4.6"/><text x="552.8" y="460.8" textLength="11.4" lengthAdjust="spacingAndGlyphs">Current FX</text></g>
<g id="gl6" class="g"><rect x="552" y="463.7" width="10" height="4.6"/><text x="552.8" y="466.8" textLength="8.4" lengthAdjust="spacingAndGlyphs">UPS BID</text></g>
<g id="gl7" class="g"><rect x="552" y="469.7" width="33" height="4.6"/><text x="552.8" y="472.8" textLength="31.4" lengthAdjust="spacingAndGlyphs">Tổng hợp chiến lược trao đổi sàn</text></g>
<g id="gl8" class="g"><rect x="552" y="475.7" width="28" height="4.6"/><text x="552.8" y="478.8" textLength="26.4" lengthAdjust="spacingAndGlyphs">Service News &amp; Activity</text></g>
<g id="gl8a" class="g"><rect x="583" y="475.7" width="20" height="4.6"/><text x="583.8" y="478.8" textLength="18.4" lengthAdjust="spacingAndGlyphs">New Funding round</text></g>

<g id="g-lb" class="g"><rect x="520" y="573.7" width="16" height="4.6"/><text x="520.8" y="576.8" textLength="14.4" lengthAdjust="spacingAndGlyphs">Lịch bài viết</text></g>
<g id="g-detail" class="g"><rect x="539" y="511.7" width="9" height="4.6"/><text x="539.8" y="514.8" textLength="7.4" lengthAdjust="spacingAndGlyphs">Detail</text></g>
<g id="gd1" class="g"><rect x="552" y="481.7" width="7" height="4.6"/><text x="552.8" y="484.8" textLength="5.4" lengthAdjust="spacingAndGlyphs">Name</text></g>
<g id="gd2" class="g"><rect x="552" y="487.7" width="14" height="4.6"/><text x="552.8" y="490.8" textLength="12.4" lengthAdjust="spacingAndGlyphs">Founder/ Year</text></g>
<g id="gd3" class="g"><rect x="552" y="493.7" width="7" height="4.6"/><text x="552.8" y="496.8" textLength="5.4" lengthAdjust="spacingAndGlyphs">Links</text></g>
<g id="gd4" class="g"><rect x="552" y="499.7" width="12" height="4.6"/><text x="552.8" y="502.8" textLength="10.4" lengthAdjust="spacingAndGlyphs">Fund Type</text></g>
<g id="gd5" class="g"><rect x="552" y="505.7" width="22" height="4.6"/><text x="552.8" y="508.8" textLength="20.4" lengthAdjust="spacingAndGlyphs">Số dự án đã đầu tư</text></g>
<g id="gd6" class="g"><rect x="552" y="511.7" width="19" height="4.6"/><text x="552.8" y="514.8" textLength="17.4" lengthAdjust="spacingAndGlyphs">Total investment</text></g>
<g id="gd7" class="g"><rect x="552" y="528.7" width="6" height="4.6"/><text x="552.8" y="531.8" textLength="4.4" lengthAdjust="spacingAndGlyphs">List</text></g>
<g id="gli1" class="g"><rect x="562" y="517.7" width="8" height="4.6"/><text x="562.8" y="520.8" textLength="6.4" lengthAdjust="spacingAndGlyphs">Twitter</text></g>
<g id="gli2" class="g"><rect x="562" y="523.7" width="9" height="4.6"/><text x="562.8" y="526.8" textLength="7.4" lengthAdjust="spacingAndGlyphs">Website</text></g>
<g id="gli3" class="g"><rect x="562" y="529.7" width="9" height="4.6"/><text x="562.8" y="532.8" textLength="7.4" lengthAdjust="spacingAndGlyphs">Linkedin</text></g>
<g id="gli4" class="g"><rect x="562" y="535.7" width="10" height="4.6"/><text x="562.8" y="538.8" textLength="8.4" lengthAdjust="spacingAndGlyphs">Facebook</text></g>
<g id="gli5" class="g"><rect x="562" y="541.2" width="6" height="4.6"/><text x="562.8" y="544.3" textLength="4.4" lengthAdjust="spacingAndGlyphs">Mail</text></g>
<g id="gd8" class="g"><rect x="552" y="547.7" width="11" height="4.6"/><text x="552.8" y="550.8" textLength="9.4" lengthAdjust="spacingAndGlyphs">Team web</text></g>
<g id="g-types" class="g"><rect x="539" y="552.7" width="8" height="4.6"/><text x="539.8" y="555.8" textLength="6.4" lengthAdjust="spacingAndGlyphs">Types</text></g>
<g id="g-portfolio" class="g"><rect x="552" y="552.7" width="8" height="4.6"/><text x="552.8" y="555.8" textLength="6.4" lengthAdjust="spacingAndGlyphs">Portfolio</text></g>
<g id="g-inv" class="g"><rect x="539" y="597" width="14" height="4.6"/><text x="539.8" y="600.1" textLength="12.4" lengthAdjust="spacingAndGlyphs">Investments</text></g>
<g id="g-inv-ins" class="g"><rect x="558" y="565.4" width="9" height="4.6"/><text x="558.8" y="568.5" textLength="7.4" lengthAdjust="spacingAndGlyphs">Insight</text></g>
<g id="gii1" class="g"><rect x="572" y="559.4" width="34" height="4.6"/><text x="572.8" y="562.5" textLength="32.4" lengthAdjust="spacingAndGlyphs">Lịch sử đầu tư từ báo cáo của quỹ đầu tư</text></g>
<g id="gii2" class="g"><rect x="572" y="565.4" width="29" height="4.6"/><text x="572.8" y="568.5" textLength="27.4" lengthAdjust="spacingAndGlyphs">Lịch trình sàn đầu tư với hạng</text></g>
<g id="gii3" class="g"><rect x="572" y="571" width="24" height="4.6"/><text x="572.8" y="574.1" textLength="22.4" lengthAdjust="spacingAndGlyphs">Tiêu chí xếp theo hạng</text></g>
<g id="g-inv-chart" class="g"><rect x="558" y="578.5" width="45" height="7"/><text x="558.8" y="581.3" textLength="43.4" lengthAdjust="spacingAndGlyphs">Chart tỉ trọng các Category/ Sector phân bổ</text><text x="558.8" y="584.3" textLength="23.2" lengthAdjust="spacingAndGlyphs">theo sàn, theo số lượng</text></g>
<g id="gic1" class="g"><rect x="607" y="577" width="26" height="4.6"/><text x="607.8" y="580.1" textLength="24.4" lengthAdjust="spacingAndGlyphs">Lịch đã đi đến đầu tư</text></g>
<g id="gic2" class="g"><rect x="607" y="582.7" width="35" height="4.6"/><text x="607.8" y="585.8" textLength="33.4" lengthAdjust="spacingAndGlyphs">Lịch thời gian đầu tư (theo category)</text></g>
<g id="g-inv-hist" class="g"><rect x="558" y="604.4" width="22" height="4.6"/><text x="558.8" y="607.5" textLength="20.4" lengthAdjust="spacingAndGlyphs">Lịch sử đầu tư</text></g>
<g id="gh1" class="g"><rect x="586" y="589.4" width="13" height="4.6"/><text x="586.8" y="592.5" textLength="11.4" lengthAdjust="spacingAndGlyphs">Dự án đầu tư</text></g>
<g id="gh2" class="g"><rect x="586" y="595" width="7" height="4.6"/><text x="586.8" y="598.1" textLength="5.4" lengthAdjust="spacingAndGlyphs">Mảng</text></g>
<g id="gh3" class="g"><rect x="586" y="601" width="12" height="4.6"/><text x="586.8" y="604.1" textLength="10.4" lengthAdjust="spacingAndGlyphs">Vốn đầu tư</text></g>
<g id="gh4" class="g"><rect x="586" y="607" width="11" height="4.6"/><text x="586.8" y="610.1" textLength="9.4" lengthAdjust="spacingAndGlyphs">Cụm/ Lead</text></g>
<g id="gh5" class="g"><rect x="586" y="612.7" width="17" height="4.6"/><text x="586.8" y="615.8" textLength="15.4" lengthAdjust="spacingAndGlyphs">Thời gian đầu tư</text></g>
<g id="gh6" class="g"><rect x="586" y="618.7" width="20" height="4.6"/><text x="586.8" y="621.8" textLength="18.4" lengthAdjust="spacingAndGlyphs">Đầu tư trong vòng</text></g>
<g id="gh6a" class="g"><rect x="612" y="618.7" width="19" height="4.6"/><text x="612.8" y="621.8" textLength="17.4" lengthAdjust="spacingAndGlyphs">Các vòng gọi vốn</text></g>
<g id="g-inv-dec" class="g"><rect x="558" y="627" width="10" height="4.6"/><text x="558.8" y="630.1" textLength="8.4" lengthAdjust="spacingAndGlyphs">Decision</text></g>
<g id="g-vequy" class="g"><rect x="572" y="627" width="11" height="4.6"/><text x="572.8" y="630.1" textLength="9.4" lengthAdjust="spacingAndGlyphs">Về Quỹ</text></g>
<g id="gq1" class="g"><rect x="586" y="625" width="30" height="4.6"/><text x="586.8" y="628.1" textLength="28.4" lengthAdjust="spacingAndGlyphs">Tiêu chí đánh giá đầu tư quỹ</text></g>
<g id="gq2" class="g"><rect x="586" y="631" width="15" height="4.6"/><text x="586.8" y="634.1" textLength="13.4" lengthAdjust="spacingAndGlyphs">Đánh giá quỹ</text></g>
<g id="g-similar" class="g"><rect x="539" y="636.7" width="20" height="4.6"/><text x="539.8" y="639.8" textLength="18.4" lengthAdjust="spacingAndGlyphs">Similar Company</text></g>

<g id="g-cross" class="g"><rect x="472" y="473.4" width="15" height="4.6"/><text x="472.8" y="476.5" textLength="13.4" lengthAdjust="spacingAndGlyphs">Cross Chain</text></g>
<g id="gcc1" class="g"><rect x="449" y="470.4" width="18" height="4.6"/><text x="449.8" y="473.5" textLength="16.4" lengthAdjust="spacingAndGlyphs">Cross DEX list</text></g>
<g id="gcc2" class="g"><rect x="433" y="476" width="34" height="4.6"/><text x="433.8" y="479.1" textLength="32.4" lengthAdjust="spacingAndGlyphs">Cross liquidity và tiền tệ list</text></g>
</svg>
